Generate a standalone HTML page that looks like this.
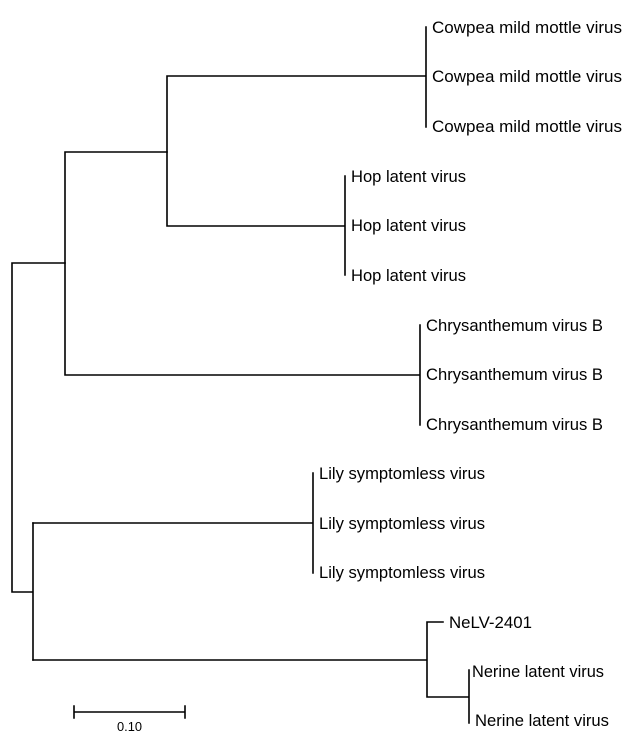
<!DOCTYPE html>
<html><head><meta charset="utf-8"><style>html,body{margin:0;padding:0;background:#fff}svg{display:block}</style></head>
<body>
<svg width="624" height="743" viewBox="0 0 624 743" xmlns="http://www.w3.org/2000/svg">
<g stroke="#000" stroke-width="1.6" fill="none" stroke-linecap="square">
<path d="M426,27V127 M167,76H426 M167,76V226 M167,226H345 M345,176V275"/>
<path d="M65,152H167 M65,152V375 M65,375H420 M420,325V425"/>
<path d="M12,263H65 M12,263V592 M12,592H33 M33,523V660"/>
<path d="M33,523H313 M313,473V573"/>
<path d="M33,660H427 M427,622V697 M427,622H443 M427,697H469 M469,670V723"/>
<path d="M74,712H185 M74,706V718 M185,706V718"/>
</g>
<g font-family="Liberation Sans, Arial, sans-serif" font-size="16.5" fill="#000">
<text x="432" y="33" textLength="190" lengthAdjust="spacingAndGlyphs">Cowpea mild  mottle virus</text>
<text x="432" y="82" textLength="190" lengthAdjust="spacingAndGlyphs">Cowpea mild  mottle virus</text>
<text x="432" y="132" textLength="190" lengthAdjust="spacingAndGlyphs">Cowpea mild  mottle virus</text>
<text x="351" y="182" textLength="115" lengthAdjust="spacingAndGlyphs">Hop latent virus</text>
<text x="351" y="231" textLength="115" lengthAdjust="spacingAndGlyphs">Hop latent virus</text>
<text x="351" y="281" textLength="115" lengthAdjust="spacingAndGlyphs">Hop latent virus</text>
<text x="426" y="331" textLength="177" lengthAdjust="spacingAndGlyphs">Chrysanthemum  virus B</text>
<text x="426" y="380" textLength="177" lengthAdjust="spacingAndGlyphs">Chrysanthemum  virus B</text>
<text x="426" y="430" textLength="177" lengthAdjust="spacingAndGlyphs">Chrysanthemum  virus B</text>
<text x="319" y="479" textLength="166" lengthAdjust="spacingAndGlyphs">Lily symptomless virus</text>
<text x="319" y="529" textLength="166" lengthAdjust="spacingAndGlyphs">Lily symptomless virus</text>
<text x="319" y="578" textLength="166" lengthAdjust="spacingAndGlyphs">Lily symptomless virus</text>
<text x="449" y="628" textLength="83" lengthAdjust="spacingAndGlyphs">NeLV-2401</text>
<text x="472" y="677" textLength="132" lengthAdjust="spacingAndGlyphs">Nerine latent virus</text>
<text x="475" y="726" textLength="134" lengthAdjust="spacingAndGlyphs">Nerine latent virus</text>
<text x="117" y="731" font-size="13" textLength="25" lengthAdjust="spacingAndGlyphs">0.10</text>
</g>
</svg>
</body></html>
